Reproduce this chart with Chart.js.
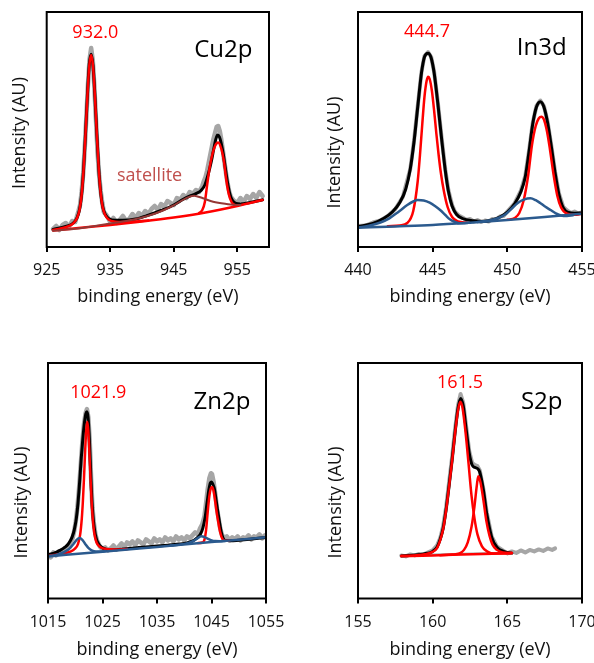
<!DOCTYPE html>
<html>
<head>
<meta charset="utf-8">
<script src="https://cdn.jsdelivr.net/npm/chart.js@4.4.1/dist/chart.umd.min.js"></script>
<style>
html,body{margin:0;padding:0;background:#fff;overflow:hidden;width:594px;height:663px}
canvas{position:absolute;display:block}
</style>
</head>
<body>
<canvas id="c1" width="297" height="331" style="left:0;top:0"></canvas>
<canvas id="c2" width="297" height="331" style="left:297px;top:0"></canvas>
<canvas id="c3" width="297" height="332" style="left:0;top:331px"></canvas>
<canvas id="c4" width="297" height="332" style="left:297px;top:331px"></canvas>
<script>
// ---------------- Cu2p ----------------
const cuTicks = [925, 935, 945, 955];
const cuRawE = [926,926.5,927,927.5,928,928.5,929,929.5,
  930,930.25,930.5,930.75,931,931.25,931.5,931.75,932,932.25,932.5,932.75,933,933.25,933.5,933.75,934,
  934.5,935,935.5,936,936.5,937,937.5,938,938.5,939,939.5,940,940.5,941,941.5,942,942.5,943,943.5,944,944.5,945,945.5,946,946.5,947,947.5,948,948.5,949,949.5,
  949.75,950,950.25,950.5,950.75,951,951.25,951.5,951.75,952,952.25,952.5,952.75,953,953.25,953.5,953.75,954,
  954.5,955,955.5,956,956.5,957,957.5,958,958.5,959];
const cuRawY = [18,21,17,22,24,20,26,25,
  36,42,55,74,100,131,163,188,199,187,161,128,95,72,56,44,35,
  31,25,29,24,27,31,26,28,33,29,34,31,36,33,38,41,37,43,40,46,44,42,49,47,52,49,55,53,57,55,61,
  66,70,76,84,92,100,108,114,120,121,116,107,96,84,73,63,55,50,
  46,44,49,45,51,48,53,49,55,51];
const cuFitE = [926,928,929.2,929.8,930.2,930.5,930.8,931.1,931.4,931.7,932.0,932.3,932.6,932.9,933.2,933.5,933.8,934.2,934.8,935.8,937,939,941,943,945,946.5,947.5,948.5,949.3,949.9,950.4,950.9,951.3,951.6,951.9,952.2,952.5,952.8,953.1,953.4,953.8,954.2,954.8,955.5,957,959];
const cuFitY = [17.5,20.6,24,29.5,38.5,52.6,77,112,150.5,182.5,192.8,181,150,112,78,54.3,40.8,32.8,28.3,26.8,26.8,28,31.8,36.5,42,47.7,50.8,53.3,56.5,62,72,85,98,107,112,110,103,93,80,67,54,47,43.5,43,44.5,47.2];
const cuP32E = [926,927.2,928.2,929.2,929.8,930.2,930.5,930.8,931.1,931.4,931.7,932.0,932.3,932.6,932.9,933.2,933.5,933.8,934.2,934.8,935.8,937,939,941];
const cuP32Y = [17.1,18.6,20.4,23.7,29.3,38.1,52.3,76.9,111.7,150.4,181,192,180.5,149.7,111.8,77.7,53.8,40.2,32,27.2,25.3,24.9,25.5,26.6];
const cuP12E = [949.0,949.5,949.9,950.3,950.7,951.1,951.5,952.0,952.5,952.9,953.3,953.7,954.1,954.6,955.0];
const cuP12Y = [34,37,45,64,81,93,101,104.5,98,86,66,52,45,42,41.6];
const cuSatE = [926,930,934.3,937,939.6,942.2,944.8,946.9,948.2,949.6,951.2,953.3,954.8,955.5];
const cuSatY = [16.3,18.5,22.7,25.5,28.7,33.7,41,48.7,51.3,48.7,45.3,43,42,42];
const cuBgE = [926,930,935,940,945,950,955,959];
const cuBgY = [16.5,19,22,25.5,29.5,34.5,41,47];

// ---------------- In3d ----------------
const inTicks = [440, 445, 450, 455];
const inRawE = [440,440.5,441,441.5,442,442.5,443,443.5,443.75,444,444.25,444.45,444.69,444.9,445.1,445.35,445.6,445.85,446.05,446.3,446.5,446.75,447,447.25,447.5,447.75,448,448.25,448.5,448.75,449,449.25,449.5,449.75,450,450.5,450.9,451.2,451.45,451.7,451.95,452.21,452.45,452.7,452.95,453.2,453.45,453.75,454,454.25,454.5,454.75,455];
const inRawY = [21,21.5,24.5,26.5,31,38,50,78,106,141,175,191,195,190,175,144,109,77,57,42,35,31.5,29.5,27,28,25.5,27,25,26.5,25.5,28,27.5,30.5,31,35.5,44,56,71,96,124,141,146.5,141,125,101,75,54,40,36.5,34,35.5,33.5,35];
const inFitE = [440,441,441.7,442.3,442.8,443.2,443.5,443.75,444,444.25,444.45,444.69,444.9,445.1,445.35,445.6,445.85,446.05,446.3,446.6,447,447.7,448.4,449,449.5,450,450.5,450.9,451.2,451.45,451.7,451.95,452.21,452.45,452.7,452.95,453.2,453.45,453.75,454.1,454.5,455];
const inFitY = [20.5,23.5,28.5,35,44.5,58,78,105,140,174,190,193.7,189,174,143,108,76,56,41,32.5,28.5,26.3,25.5,27,30,35,43.5,55,70,95,123,140,145.3,140,124,100,74,53,39,34.5,33.8,34];
const in52E = [442.0,442.8,443.3,443.7,444.0,444.15,444.3,444.45,444.6,444.7,444.8,444.95,445.1,445.25,445.4,445.55,445.75,446.0,446.3,446.7,447.3];
const in52Y = [20.8,21.6,24,36,66,92,122,150,166.5,170.3,168,156,136,113,92,74,56,40,30,25.5,24.2];
const in32E = [450.0,450.5,450.8,451.1,451.4,451.65,451.9,452.1,452.28,452.45,452.65,452.85,453.1,453.35,453.6,454.0,454.5,455.0];
const in32Y = [27.2,29,34,47,72,102,121,128.5,130.3,127.5,116,98,72,51,39.5,33.3,32.3,33.2];
const inB52E = [440.0,440.8,441.5,442.1,442.7,443.3,443.7,444.0,444.4,444.8,445.2,445.5,445.85,446.15,446.5,446.8,447.3];
const inB52Y = [19.5,21.5,24.5,28.7,35,42,45.5,47,46.5,44.3,40.5,37,32,27.7,25,23.7,23.9];
const inB32E = [448.0,448.8,449.4,449.9,450.3,450.7,451.1,451.55,451.9,452.2,452.55,452.9,453.25,453.6,454.0,454.4];
const inB32Y = [25,26.5,29,33,38.5,44,47.3,48.7,46.8,44,40.2,37,33.7,31.5,31,31.8];
const inBgE = [440,442.5,445,447.5,450,452.5,455];
const inBgY = [19.3,20.6,22,24.3,27,30,33.2];

// ---------------- Zn2p ----------------
const znTicks = [1015, 1025, 1035, 1045, 1055];
const znRawE = [1015,1015.5,1016,1016.5,1017,1017.5,1018,1018.5,1019,1019.5,
  1019.8,1020.1,1020.4,1020.7,1021.0,1021.3,1021.6,1021.9,1022.15,1022.4,1022.65,1022.9,1023.15,1023.4,1023.7,1024.0,
  1024.5,1025,1025.5,1026,1026.5,1027,1027.5,1028,1028.5,1029,1029.5,1030,1030.5,1031,1031.5,1032,1032.5,1033,1033.5,1034,1034.5,1035,1035.5,1036,1036.5,1037,1037.5,1038,1038.5,1039,1039.5,1040,1040.5,1041,1041.5,1042,1042.5,
  1042.9,1043.3,1043.7,1044.0,1044.3,1044.6,1044.9,1045.1,1045.4,1045.7,1046.0,1046.3,1046.6,1046.9,1047.3,
  1047.8,1048.3,1048.8,1049.3,1049.8,1050.3,1050.8,1051.3,1051.8,1052.3,1052.8,1053.3,1053.8,1054.3,1054.8];
const znRawY = [44,41,46,43,47,45,50,49,55,60,
  67,77,91,110,133,156,174,185,189,181,158,121,91,76,64,58,
  52,49,51,48,50,53,49,52,55,51,56,54,57,53,58,56,54,59,57,55,60,57,59,56,61,58,60,57,62,59,61,58,62,60,63,66,64,
  70,74,82,95,109,120,125,124,116,104,90,80,70,64,60,
  62,58,61,59,62,58,61,60,63,59,62,61,64,60,63];
const znFitE = [1015,1016,1017.2,1018.2,1018.8,1019.4,1019.8,1020.2,1020.5,1020.8,1021.1,1021.4,1021.7,1021.95,1022.15,1022.35,1022.55,1022.75,1022.95,1023.2,1023.5,1023.9,1024.4,1025.0,1025.8,1027,1029,1031,1033,1035,1037,1039,1040.5,1041.5,1042.3,1042.9,1043.4,1043.8,1044.2,1044.5,1044.8,1045.0,1045.25,1045.55,1045.85,1046.2,1046.5,1046.8,1047.1,1047.5,1048.5,1050,1052,1055];
const znFitY = [44,45,48,51.5,55,61,68,80,95,116,140,160,176,184.5,186.3,181,164,138,110,86,70,59,53.5,50.5,49,48.7,49.5,50.5,51.5,52.3,53.2,54.3,55.5,57.3,60.3,63.5,70,80,96,108,115.5,116.3,114,109,98,85,75,66,60.5,58,57.6,58.2,59.2,61];
const zn32E = [1015,1016.5,1018.2,1019.2,1019.9,1020.5,1020.9,1021.2,1021.4,1021.6,1021.8,1022.0,1022.2,1022.4,1022.6,1022.8,1023.0,1023.2,1023.5,1023.9,1024.5,1025.2,1026.2,1027.7,1029.5];
const zn32Y = [42.5,43.7,45.3,47.1,49.5,54.3,63.7,79.7,97,119.5,145,167.1,176.3,167.3,145.4,120.1,97.8,80.7,64.9,55.9,51.7,49.9,49.1,49,49.4];
const zn12E = [1042.5,1043.3,1043.7,1044.0,1044.3,1044.6,1044.85,1045.1,1045.35,1045.65,1045.95,1046.25,1046.6,1047.0,1047.5,1048.3];
const zn12Y = [55.3,55.9,58.5,68,86,102,109.5,111.3,108,98,86,76,66,59.5,57.6,57.8];
const znB32E = [1015,1016.5,1017.9,1019.0,1019.7,1020.3,1020.8,1021.3,1021.8,1022.4,1023.0,1023.8,1024.6,1025.5];
const znB32Y = [42.3,43.5,46.3,50,54.7,58.8,60.3,58.5,54.7,50.5,48,46.8,46.9,47.3];
const znB12E = [1037.5,1039.5,1040.8,1041.7,1042.4,1043.1,1043.6,1044.2,1044.9,1045.7,1046.6,1047.5];
const znB12Y = [52.8,54.0,55.5,57.5,60,62,61.6,60,58.3,57.3,57.2,57.5];
const znBgE = [1015,1025,1035,1045,1055];
const znBgY = [42,46.7,51.5,56.3,61];

// ---------------- S2p ----------------
const sTicks = [155, 160, 165, 170];
const sRawE = [157.9,158.2,158.5,158.8,159.1,159.4,159.7,160.0,160.3,160.5,160.7,160.9,161.1,161.3,161.5,161.7,161.87,162.05,162.25,162.45,162.65,162.84,163.0,163.15,163.4,163.62,163.95,164.3,164.75,165.0,165.3,165.6,165.9,166.2,166.5,166.8,167.1,167.4,167.7,168.0,168.2];
const sRawY = [43,42,44,43,44.5,44,46,48,53,60,72,91,116,141,169,193,204,195,171,147,135,133,132,128,109,86,62,52,47.5,45,47,45.5,48,46,48.5,47,49,47.5,50,48.5,50];
const sFitE = [157.9,159.4,160.0,160.3,160.5,160.7,160.9,161.1,161.3,161.5,161.7,161.87,162.05,162.25,162.45,162.65,162.84,163.0,163.15,163.4,163.62,163.95,164.3,164.75,165.3];
const sFitY = [42.5,44.5,47,51.5,59,70,89,113,138.5,166,190,199.7,192,168,145,133,130.7,129.7,126.3,108,84.7,61.3,51.3,47,45.3];
const s32E = [157.9,158.8,159.5,160.0,160.3,160.5,160.7,160.9,161.1,161.3,161.5,161.7,161.85,162.0,162.2,162.4,162.6,162.8,163.0,163.3,163.7,164.1,164.8,165.3];
const s32Y = [42.3,43,44.2,46.5,50.5,58,69,88,112,137,165,188,196.3,190,166,135,103,80,64,52,46.5,44.8,44.8,45.3];
const s12E = [160.5,161.3,161.8,162.1,162.35,162.6,162.8,162.95,163.05,163.2,163.4,163.6,163.8,164.0,164.3,164.7,165.3];
const s12Y = [43.2,43.8,45,48.5,56,71.3,92,112,122,116,98,77,63,54,48.5,46,45.3];
const sBgE = [157.9,160,162,164,165.3];
const sBgY = [42.3,43,43.8,44.6,45.3];
const sShE = [159.2,162,165.2];
const sShY = [43.6,44.6,45.8];

// ---------------- drawing ----------------
Chart.defaults.font.family = '"Open Sans", sans-serif';
const RED = '#ff0000', BLACK = '#000000', GRAY = '#a6a6a6', BLUE = '#2b5a8e', BROWN = '#953735';
const TXT = '#111111';

function line(e, y, color, width, order, smooth) {
  return {
    data: e.map((x, i) => ({x: x, y: y[i]})),
    borderColor: color, borderWidth: width, pointRadius: 0, fill: false, order: order,
    cubicInterpolationMode: smooth ? 'monotone' : 'default', tension: smooth ? 0.4 : 0,
    borderJoinStyle: 'round', borderCapStyle: 'round'
  };
}

function panel(id, p) {
  const deco = {
    id: 'deco' + id,
    afterDatasetsDraw(chart) {
      const ctx = chart.ctx, a = chart.chartArea, sx = chart.scales.x, sy = chart.scales.y;
      ctx.save();
      ctx.strokeStyle = '#000'; ctx.lineWidth = 2;
      ctx.strokeRect(a.left, a.top, a.right - a.left, a.bottom - a.top);
      ctx.textAlign = 'center'; ctx.textBaseline = 'middle';
      p.labels.forEach(l => {
        ctx.fillStyle = l.c; ctx.font = l.f + 'px "Open Sans"';
        ctx.fillText(l.t, sx.getPixelForValue(l.e), sy.getPixelForValue(l.v));
      });
      ctx.translate(p.yt[0], p.yt[1]); ctx.rotate(-Math.PI / 2);
      ctx.fillStyle = TXT; ctx.font = '18px "Open Sans"';
      ctx.fillText('Intensity (AU)', 0, 0);
      ctx.restore();
    }
  };
  new Chart(document.getElementById(id), {
    type: 'line',
    data: {datasets: p.series},
    options: {
      responsive: false, animation: false, events: [],
      layout: {padding: {left: 0, top: p.top, right: p.right, bottom: 0}},
      plugins: {legend: {display: false}, tooltip: {enabled: false}},
      scales: {
        x: {
          type: 'linear', min: p.min, max: p.max,
          afterBuildTicks: s => { s.ticks = p.ticks.map(v => ({value: v})); },
          afterFit: s => { s.height = p.xh; s.paddingLeft = 0; s.paddingRight = 0; },
          grid: {display: true, drawOnChartArea: false, drawTicks: true, tickLength: 5, color: '#000', lineWidth: 2},
          border: {display: false},
          ticks: {font: {size: 16}, color: TXT, padding: 9, maxRotation: 0, autoSkip: false, callback: v => String(v)},
          title: {display: true, text: 'binding energy (eV)', font: {size: 18}, color: TXT, padding: {top: 0, bottom: p.tpb}}
        },
        y: {
          type: 'linear', min: 0, max: 235,
          afterFit: s => { s.width = p.left; },
          ticks: {display: false}, grid: {display: false}, border: {display: false}
        }
      }
    },
    plugins: [deco]
  });
}

panel('c1', {
  min: 925, max: 960, ticks: cuTicks, top: 12, right: 28, left: 46.7, xh: 84, tpb: 23.5, yt: [20, 133],
  series: [
    line(cuRawE, cuRawY, GRAY, 4.5, 6, false),
    line(cuFitE, cuFitY, BLACK, 3, 5, true),
    line(cuP32E, cuP32Y, RED, 2.5, 4, true),
    line(cuP12E, cuP12Y, RED, 2.5, 4, true),
    line(cuBgE, cuBgY, RED, 2.5, 3, true),
    line(cuSatE, cuSatY, BROWN, 2, 2, true)
  ],
  labels: [
    {t: '932.0', e: 932.65, v: 214, c: RED, f: 18},
    {t: 'Cu2p', e: 952.8, v: 197, c: '#000', f: 24},
    {t: 'satellite', e: 941.2, v: 71.3, c: '#c0504d', f: 18}
  ]
});

panel('c2', {
  min: 440, max: 455, ticks: inTicks, top: 12, right: 12, left: 61, xh: 84, tpb: 23.5, yt: [38.3, 152.5],
  series: [
    line(inRawE, inRawY, GRAY, 4, 6, false),
    line(inFitE, inFitY, BLACK, 3, 5, true),
    line(in52E, in52Y, RED, 2.5, 4, true),
    line(in32E, in32Y, RED, 2.5, 4, true),
    line(inB52E, inB52Y, BLUE, 2.5, 3, true),
    line(inB32E, inB32Y, BLUE, 2.5, 3, true),
    line(inBgE, inBgY, BLUE, 2.5, 2, true)
  ],
  labels: [
    {t: '444.7', e: 444.62, v: 215, c: RED, f: 18},
    {t: 'In3d', e: 452.3, v: 199, c: '#000', f: 24}
  ]
});

panel('c3', {
  min: 1015, max: 1055, ticks: znTicks, top: 32, right: 31, left: 48, xh: 64.5, tpb: 2.2, yt: [21.7, 171.5],
  series: [
    line(znRawE, znRawY, GRAY, 4.5, 6, false),
    line(znFitE, znFitY, BLACK, 3, 5, true),
    line(zn32E, zn32Y, RED, 2.5, 4, true),
    line(zn12E, zn12Y, RED, 2.5, 4, true),
    line(znB32E, znB32Y, BLUE, 2.5, 3, true),
    line(znB12E, znB12Y, BLUE, 2.5, 3, true),
    line(znBgE, znBgY, BLUE, 2.5, 2, true)
  ],
  labels: [
    {t: '1021.9', e: 1024.23, v: 204.7, c: RED, f: 18},
    {t: 'Zn2p', e: 1046.93, v: 196.3, c: '#000', f: 24}
  ]
});

panel('c4', {
  min: 155, max: 170, ticks: sTicks, top: 32, right: 12, left: 61, xh: 64.5, tpb: 2.2, yt: [38.7, 171.5],
  series: [
    line(sRawE, sRawY, GRAY, 4, 7, false),
    line(sShE, sShY, GRAY, 2, 6, true),
    line(sFitE, sFitY, BLACK, 3, 5, true),
    line(s32E, s32Y, RED, 2.5, 4, true),
    line(s12E, s12Y, RED, 2.5, 4, true),
    line(sBgE, sBgY, RED, 2.5, 3, true)
  ],
  labels: [
    {t: '161.5', e: 161.83, v: 215, c: RED, f: 18},
    {t: 'S2p', e: 167.3, v: 196.3, c: '#000', f: 24}
  ]
});
</script>
</body>
</html>
